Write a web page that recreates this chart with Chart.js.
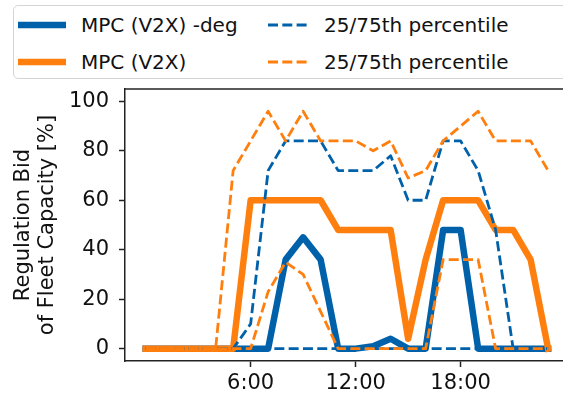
<!DOCTYPE html>
<html>
<head>
    <title>Regulation Bid</title>
    <script src="https://cdn.jsdelivr.net/npm/chart.js"></script>
    <style>
        body {
            margin: 0;
            background: white;
            font-family: "DejaVu Sans", sans-serif;
        }
        .wrap {
            position: relative;
            width: 563px;
            height: 398px;
            overflow: hidden;
        }
        .legend {
            position: absolute;
            left: 13px;
            top: 5px;
            width: 580px;
            height: 72px;
            border: 1.5px solid #d4d4d4;
            border-radius: 5px;
            background: white;
            z-index: 2;
        }
        .item {
            position: absolute;
            font-size: 20px;
            line-height: 24px;
            color: #111;
            white-space: nowrap;
        }
        .item svg { position: absolute; top: 0; }
        .item span { position: absolute; top: 0; }
    </style>
</head>
<body>
    <div class="wrap">
        <div class="legend" id="legend"></div>
        <canvas id="bidChart" width="563" height="398"></canvas>
    </div>

    <script>
        // hours of the day
        const hours = [0, 1, 2, 3, 4, 5, 6, 7, 8, 9, 10, 11, 12, 13, 14, 15, 16, 17, 18, 19, 20, 21, 22, 23];

        // MPC (V2X) -deg : median + 25/75th percentile
        const degMedian = [0, 0, 0, 0, 0, 0, 0, 0, 36, 45, 36, 0, 0, 1, 4, 0, 0, 48, 48, 0, 0, 0, 0, 0];
        const degP25    = [0, 0, 0, 0, 0, 0, 0, 0, 0, 0, 0, 0, 0, 0, 0, 0, 0, 0, 0, 0, 0, 0, 0, 0];
        const degP75    = [0, 0, 0, 0, 0, 0, 10, 72, 84, 84, 84, 72, 72, 72, 78, 60, 60, 84, 84, 72, 48, 0, 0, 0];

        // MPC (V2X) : median + 25/75th percentile
        const v2xMedian = [0, 0, 0, 0, 0, 0, 60, 60, 60, 60, 60, 48, 48, 48, 48, 4, 36, 60, 60, 60, 48, 48, 36, 0];
        const v2xP25    = [0, 0, 0, 0, 0, 0, 0, 23, 35, 30, 15, 0, 0, 0, 0, 0, 0, 36, 36, 36, 0, 0, 0, 0];
        const v2xP75    = [0, 0, 0, 0, 0, 72, 84, 96, 84, 96, 84, 84, 84, 80, 84, 69, 72, 84, 90, 96, 84, 84, 84, 72];

        const xTickValues = [6, 12, 18];
        const xTickLabels = ['6:00', '12:00', '18:00'];
        const yTickValues = [0, 20, 40, 60, 80, 100];

        const seriesLabels = ['MPC (V2X) -deg', 'MPC (V2X)', '25/75th percentile', '25/75th percentile'];

        const BLUE = '#0061ab';
        const ORANGE = '#ff7f0e';
        const FONT = 'DejaVu Sans';

        const pts = arr => hours.map((h, i) => ({ x: h, y: arr[i] }));

        const solid = (label, arr, color, order) => ({
            label: label,
            data: pts(arr),
            borderColor: color,
            borderWidth: 6.5,
            borderCapStyle: 'square',
            borderJoinStyle: 'round',
            pointRadius: 0,
            tension: 0,
            order: order
        });
        const dashed = (label, arr, color, order) => ({
            label: label,
            data: pts(arr),
            borderColor: color,
            borderWidth: 2.8,
            borderDash: [10, 4.3],
            borderJoinStyle: 'round',
            pointRadius: 0,
            tension: 0,
            order: order
        });

        // top spine (right spine is outside the picture)
        const topSpine = {
            id: 'topSpine',
            afterDraw(chart) {
                const { ctx, chartArea } = chart;
                ctx.save();
                ctx.strokeStyle = '#222';
                ctx.lineWidth = 1.5;
                ctx.beginPath();
                ctx.moveTo(chartArea.left, chartArea.top);
                ctx.lineTo(chart.width, chartArea.top);
                ctx.stroke();
                ctx.restore();
            }
        };

        const ctx = document.getElementById('bidChart').getContext('2d');
        new Chart(ctx, {
            type: 'line',
            data: {
                datasets: [
                    solid(seriesLabels[0], degMedian, BLUE, 4),
                    solid(seriesLabels[1], v2xMedian, ORANGE, 3),
                    dashed(seriesLabels[2], degP25, BLUE, 2),
                    dashed(seriesLabels[2], degP75, BLUE, 2),
                    dashed(seriesLabels[3], v2xP25, ORANGE, 1),
                    dashed(seriesLabels[3], v2xP75, ORANGE, 1)
                ]
            },
            options: {
                responsive: false,
                animation: false,
                layout: { padding: { top: 89, left: 0, right: 0, bottom: 0 } },
                plugins: {
                    legend: { display: false },
                    tooltip: { enabled: false }
                },
                scales: {
                    x: {
                        type: 'linear',
                        min: -1.18,
                        max: 23.85,
                        afterBuildTicks: s => { s.ticks = xTickValues.map(v => ({ value: v })); },
                        afterFit: s => { s.height = 37; },
                        ticks: {
                            callback: v => xTickLabels[xTickValues.indexOf(v)],
                            color: '#111',
                            font: { family: FONT, size: 21 },
                            maxRotation: 0,
                            padding: 4
                        },
                        grid: { drawOnChartArea: false, tickLength: 6, tickColor: '#222', tickWidth: 1.5 },
                        border: { color: '#222', width: 1.5 }
                    },
                    y: {
                        min: -5,
                        max: 105,
                        afterBuildTicks: s => { s.ticks = yTickValues.map(v => ({ value: v })); },
                        afterFit: s => { s.width = 125; },
                        ticks: {
                            color: '#111',
                            font: { family: FONT, size: 21 },
                            padding: 10
                        },
                        grid: { drawOnChartArea: false, tickLength: 6, tickColor: '#222', tickWidth: 1.5 },
                        border: { color: '#222', width: 1.5 },
                        title: {
                            display: true,
                            text: ['Regulation Bid', 'of Fleet Capacity [%]'],
                            color: '#111',
                            font: { family: FONT, size: 21, lineHeight: 1.15 },
                            padding: { top: 11, bottom: 0 }
                        }
                    }
                }
            },
            plugins: [topSpine]
        });

        // legend drawn as a two-column box like the original figure
        const legendItems = [
            { label: seriesLabels[0], color: BLUE, dash: false, x: 4, y: 7 },
            { label: seriesLabels[1], color: ORANGE, dash: false, x: 4, y: 44 },
            { label: seriesLabels[2], color: BLUE, dash: true, x: 254, y: 7 },
            { label: seriesLabels[3], color: ORANGE, dash: true, x: 254, y: 44 }
        ];
        const legend = document.getElementById('legend');
        legendItems.forEach(it => {
            const div = document.createElement('div');
            div.className = 'item';
            div.style.left = it.x + 'px';
            div.style.top = it.y + 'px';
            const w = it.dash ? 41 : 48;
            const line = it.dash
                ? `<line x1="0" y1="12" x2="${w}" y2="12" stroke="${it.color}" stroke-width="2.8" stroke-dasharray="10 4.3"/>`
                : `<line x1="0" y1="12" x2="${w}" y2="12" stroke="${it.color}" stroke-width="6.5"/>`;
            div.innerHTML = `<svg width="${w}" height="24">${line}</svg><span style="left:${w + 15}px">${it.label}</span>`;
            legend.appendChild(div);
        });
    </script>
</body>
</html>
